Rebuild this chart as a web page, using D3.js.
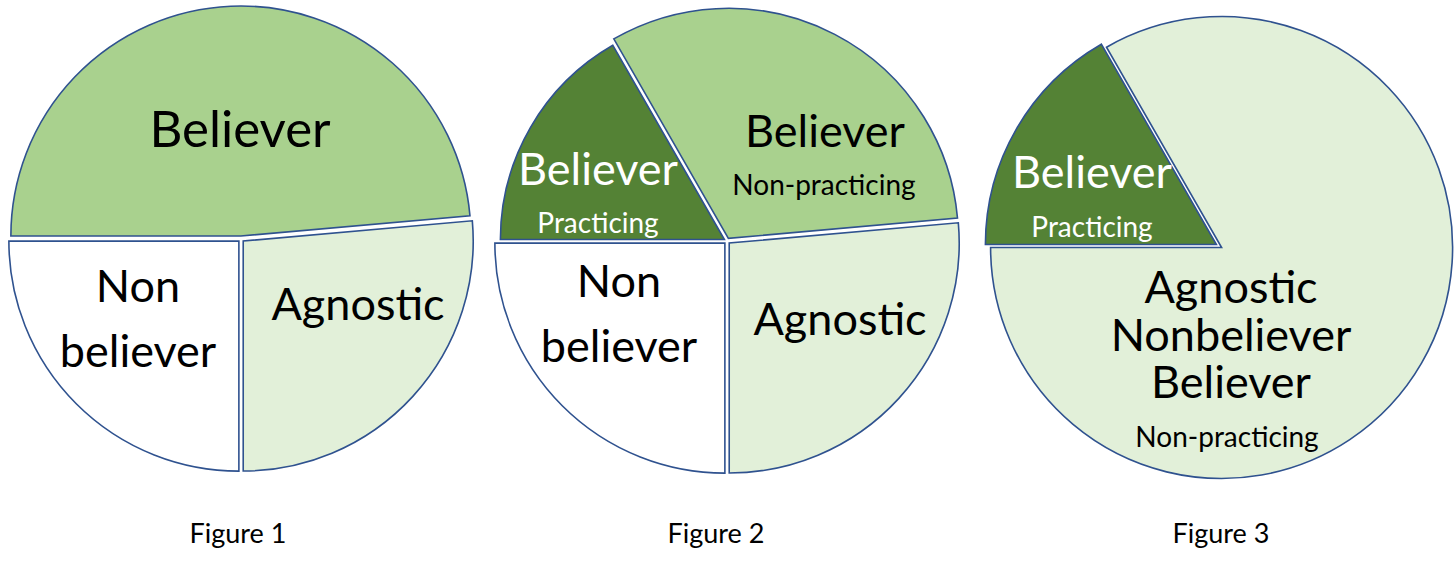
<!DOCTYPE html>
<html>
<head>
<meta charset="utf-8">
<script src="https://cdn.jsdelivr.net/npm/d3@7"></script>
<style>
  body { margin: 0; background: #fff; }
  text { font-family: Lato, "Open Sans", sans-serif; }
</style>
</head>
<body>
<div id="chart"></div>
<script>
// slice shares, in percent of the full circle
var fig1Names  = ["Believer", "Agnostic", "Non believer"];
var fig1Values = [48.6, 26.4, 25.0];

var fig2Names  = ["Believer practicing", "Believer non-practicing", "Agnostic", "Non believer"];
var fig2Values = [16.7, 31.9, 26.4, 25.0];

var fig3Names  = ["Believer practicing", "Agnostic / Nonbeliever / Believer non-practicing"];
var fig3Values = [16.7, 83.3];

var captions = ["Figure 1", "Figure 2", "Figure 3"];

// colours by slice name
var colors = {
  "Believer": "#a9d18e",
  "Believer non-practicing": "#a9d18e",
  "Believer practicing": "#548235",
  "Agnostic": "#e2f0d9",
  "Agnostic / Nonbeliever / Believer non-practicing": "#e2f0d9",
  "Non believer": "#ffffff"
};

var w = 1456, h = 564;
var svg = d3.select("#chart").append("svg")
    .attr("width", w)
    .attr("height", h);

// layout of the three pies + their in-slice labels (offsets from pie centre)
// a label with several lines is one text, lines given as array, lh = line step
var figs = [
  { names: fig1Names, values: fig1Values, cx: 241, cy: 239, r: 230, capX: 238,
    labels: [
      {t: ["Believer"], x: -1, y: -92, size: 51, fill: "#000"},
      {t: ["Non", "believer"], x: -103, y: 63, lh: 65, size: 45, fill: "#000"},
      {t: ["Agnostic"], x: 117, y: 81, size: 45, fill: "#000"}
    ]},
  { names: fig2Names, values: fig2Values, cx: 727, cy: 241, r: 230, capX: 716,
    radii: [224, 230, 230, 230],
    labels: [
      {t: ["Believer"], x: -129, y: -56, size: 45, fill: "#fff"},
      {t: ["Practicing"], x: -129, y: -8, size: 28, fill: "#fff"},
      {t: ["Believer"], x: 98, y: -94, size: 45, fill: "#000"},
      {t: ["Non-practicing"], x: 97, y: -46, size: 28, fill: "#000"},
      {t: ["Non", "believer"], x: -108, y: 56, lh: 65, size: 45, fill: "#000"},
      {t: ["Agnostic"], x: 113, y: 94, size: 45, fill: "#000"}
    ]},
  { names: fig3Names, values: fig3Values, cx: 1219, cy: 246, r: 231, capX: 1221,
    labels: [
      {t: ["Believer"], x: -127, y: -58, size: 45, fill: "#fff"},
      {t: ["Practicing"], x: -127, y: -9, size: 28, fill: "#fff"},
      {t: ["Agnostic", "Nonbeliever", "Believer"], x: 12, y: 57, lh: 47.5, size: 45, fill: "#000"},
      {t: ["Non-practicing"], x: 8, y: 201, size: 28, fill: "#000"}
    ]}
];

var explode = 3;

var pie = d3.pie()
    .sort(null)
    .startAngle(-Math.PI / 2)
    .endAngle(3 * Math.PI / 2);

figs.forEach(function(f, i) {
    var arc = d3.arc()
        .innerRadius(0)
        .outerRadius(function(d) { return f.radii ? f.radii[d.index] : f.r; });
    var data = pie(f.values);

    var g = svg.append("g")
        .attr("transform", "translate(" + f.cx + "," + f.cy + ")");

    g.selectAll("path")
        .data(data)
        .enter()
        .append("path")
        .attr("d", arc)
        .attr("transform", function(d) {
            var mid = (d.startAngle + d.endAngle) / 2;
            return "translate(" + (Math.sin(mid) * explode) + "," + (-Math.cos(mid) * explode) + ")";
        })
        .attr("fill", function(d, j) { return colors[f.names[j]]; })
        .attr("stroke", "#2f528f")
        .attr("stroke-width", 1.6)
        .attr("stroke-linejoin", "miter");

    var lbl = g.selectAll("text.lbl")
        .data(f.labels)
        .enter()
        .append("text")
        .attr("class", "lbl")
        .attr("text-anchor", "middle")
        .attr("font-size", function(d) { return d.size; })
        .attr("fill", function(d) { return d.fill; });

    lbl.selectAll("tspan")
        .data(function(d) {
            return d.t.map(function(s, k) { return {s: s, x: d.x, y: d.y + k * (d.lh || 0)}; });
        })
        .enter()
        .append("tspan")
        .attr("x", function(d) { return d.x; })
        .attr("y", function(d) { return d.y; })
        .text(function(d) { return d.s; });

    svg.append("text")
        .attr("x", f.capX)
        .attr("y", 543)
        .attr("text-anchor", "middle")
        .attr("font-size", 27)
        .attr("fill", "#000")
        .text(captions[i]);
});
</script>
</body>
</html>
